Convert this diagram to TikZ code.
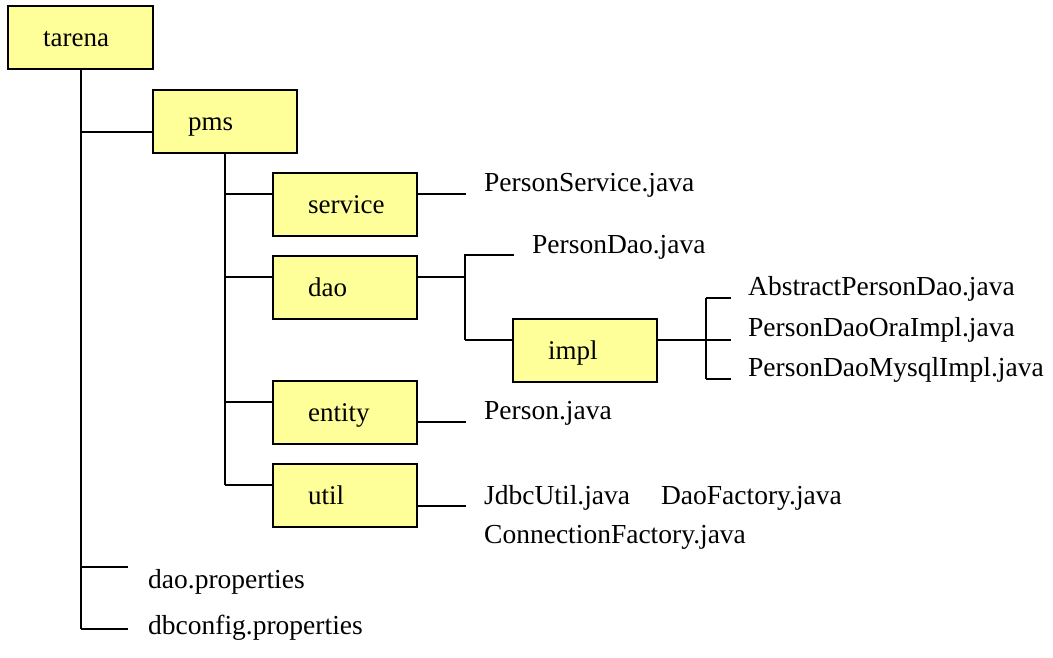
\documentclass[tikz,border=0pt]{standalone}
\usepackage{fontspec}
\setmainfont{Liberation Serif}
\definecolor{boxyellow}{HTML}{FFFF99}
\begin{document}
\begin{tikzpicture}[x=1pt,y=-1pt,
  conn/.style={draw=black,line width=2.1pt},
  dirbox/.style={draw=black,line width=2.1pt,fill=boxyellow,anchor=north west,
    minimum width=144pt,minimum height=63pt,inner sep=0pt,
    text height=20pt,text depth=3pt,text width=144pt,align=left,
    font=\fontsize{27}{32}\selectfont},
  file/.style={anchor=base west,inner sep=0pt,font=\fontsize{27.5}{32}\selectfont}]
\useasboundingbox (0,0) rectangle (1053,657);
% folders
\node[dirbox,minimum width=145pt,text width=145pt] (tarena) at (7,5) {\hspace*{35pt}tarena};
\node[dirbox] (pms) at (152,89) {\hspace*{35pt}pms};
\node[dirbox] (service) at (272,172) {\hspace*{35pt}service};
\node[dirbox] (dao) at (272,255) {\hspace*{35pt}dao};
\node[dirbox] (impl) at (512,318) {\hspace*{35pt}impl};
\node[dirbox] (entity) at (272,380) {\hspace*{35pt}entity};
\node[dirbox] (util) at (272,463) {\hspace*{35pt}util};
% files
\node[file] (fsvc) at (484,191) {PersonService.java};
\node[file] (fpdao) at (532,253) {PersonDao.java};
\node[file] (fabs) at (748,295) {AbstractPersonDao.java};
\node[file] (fora) at (748,336) {PersonDaoOraImpl.java};
\node[file] (fmys) at (748,376) {PersonDaoMysqlImpl.java};
\node[file] (fper) at (484,419) {Person.java};
\node[file] (fjdbc) at (484,504) {JdbcUtil.java\hspace{31pt}DaoFactory.java};
\node[file] (fconn) at (484,543) {ConnectionFactory.java};
\node[file] (fdaop) at (148,588) {dao.properties};
\node[file] (fdbc) at (148,634) {dbconfig.properties};
% connection points
\coordinate (daopEnd) at (128,567);
\coordinate (dbcEnd) at (128,629);
\coordinate (pmsIn) at ([yshift=-10pt]pms.west);
\coordinate (svcIn) at ([yshift=10.5pt]service.west);
\coordinate (daoIn) at ([yshift=10.5pt]dao.west);
\coordinate (entIn) at ([yshift=10.5pt]entity.west);
\coordinate (utilIn) at ([yshift=10.5pt]util.west);
\coordinate (implIn) at ([yshift=11pt]impl.west);
% trunk of tarena
\draw[conn] (tarena.south) -- (tarena.south |- dbcEnd);
\draw[conn] (tarena.south |- pmsIn) -- (pmsIn);
\draw[conn] (tarena.south |- daopEnd) -- (daopEnd);
\draw[conn] (tarena.south |- dbcEnd) -- (dbcEnd);
% trunk of pms
\draw[conn] (pms.south) -- (pms.south |- utilIn);
\draw[conn] (pms.south |- svcIn) -- (svcIn);
\draw[conn] (pms.south |- daoIn) -- (daoIn);
\draw[conn] (pms.south |- entIn) -- (entIn);
\draw[conn] (pms.south |- utilIn) -- (utilIn);
% service
\draw[conn] ([yshift=10.5pt]service.east) -- ++(48,0);
% dao
\draw[conn] ([yshift=10.5pt]dao.east) -- ++(47,0) coordinate (daoJ);
\draw[conn] (daoJ |- implIn) -- (daoJ |- 0,255) -- ++(49,0);
\draw[conn] (daoJ |- implIn) -- (implIn);
% impl
\draw[conn] ([yshift=10.5pt]impl.east) -- ++(48,0) coordinate (implJ);
\draw[conn] (implJ |- 0,298) -- (implJ |- 0,379);
\draw[conn] (implJ |- 0,298) -- ++(25,0);
\draw[conn] (implJ) -- ++(25,0);
\draw[conn] (implJ |- 0,379) -- ++(25,0);
% entity, util
\draw[conn] ([yshift=-9.5pt]entity.east) -- ++(48,0);
\draw[conn] ([yshift=-10.5pt]util.east) -- ++(48,0);
\end{tikzpicture}
\end{document}
